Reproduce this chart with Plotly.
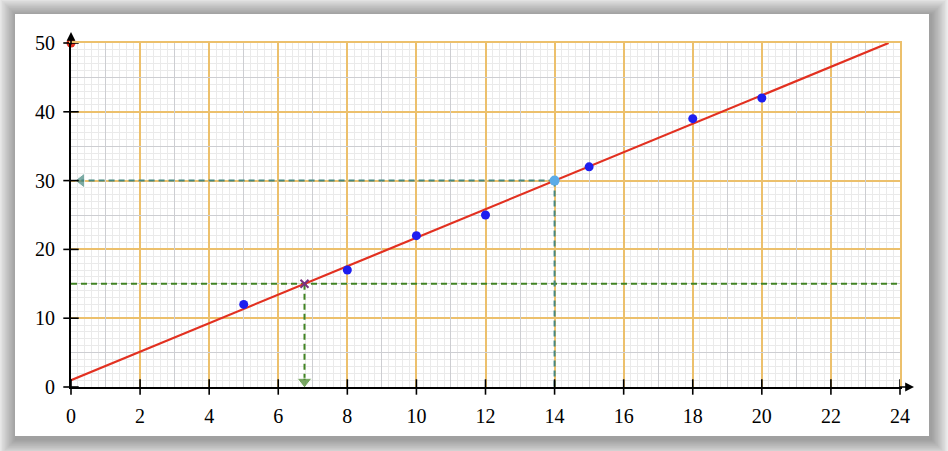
import plotly.graph_objects as go

# measured points
pts_x = [5, 8, 10, 12, 15, 18, 20]
pts_y = [12, 17, 22, 25, 32, 39, 42]

# line of best fit
fit_x = [0, 23.67]
fit_y = [1, 50]

# reading at y = 15 (cross) and reading at x = 14
cross_x, cross_y = 6.76, 15
read_x, read_y = 14, 30

x_ticks = list(range(0, 25, 2))
y_ticks = list(range(0, 51, 10))
x_mid = list(range(1, 24, 2))
y_mid = [5, 15, 25, 35, 45]

W, H = 948, 451
L, R, T, B = 71, 48, 43, 64
PW, PH = W - L - R, H - T - B

def px(x):
	return (x - L) / PW

def py(y):
	return (H - B - y) / PH

ORANGE = "rgb(236,192,108)"
MIDGRAY = "rgb(205,206,210)"
FINEGRAY = "rgb(234,234,234)"
TEAL = "rgb(70,136,128)"
GREEN = "rgb(66,132,36)"
font_family = "'Liberation Serif', 'DejaVu Serif', serif"

fig = go.Figure()

# green reading: horizontal across, vertical down to x axis
fig.add_trace(go.Scatter(x=[0, 24], y=[cross_y, cross_y], mode="lines",
						 line=dict(color=GREEN, width=2, dash="6px,4px"),
						 hoverinfo="skip"))
fig.add_trace(go.Scatter(x=[cross_x, cross_x], y=[cross_y, 0.8], mode="lines+markers",
						 line=dict(color=GREEN, width=2, dash="6px,4px"),
						 marker=dict(symbol=["circle", "triangle-down"], size=[0, 13],
									 color=GREEN),
						 cliponaxis=False, hoverinfo="skip"))

# teal reading: vertical down and horizontal to y axis
fig.add_trace(go.Scatter(x=[read_x, read_x], y=[read_y, 0], mode="lines",
						 line=dict(color=TEAL, width=2, dash="6px,4px"),
						 hoverinfo="skip"))
fig.add_trace(go.Scatter(x=[read_x, 0.3], y=[read_y, read_y], mode="lines+markers",
						 line=dict(color=TEAL, width=2, dash="6px,4px"),
						 marker=dict(symbol=["circle", "triangle-left"], size=[0, 13],
									 color=TEAL),
						 cliponaxis=False, hoverinfo="skip"))

# best fit line
fig.add_trace(go.Scatter(x=fit_x, y=fit_y, mode="lines",
						 line=dict(color="rgb(226,48,32)", width=2.2)))

# data points
fig.add_trace(go.Scatter(x=pts_x, y=pts_y, mode="markers",
						 marker=dict(color="rgb(30,30,240)", size=9)))
fig.add_trace(go.Scatter(x=[read_x], y=[read_y], mode="markers",
						 marker=dict(color="rgb(92,172,232)", size=10)))
fig.add_trace(go.Scatter(x=[cross_x], y=[cross_y], mode="markers",
						 marker=dict(color="rgb(120,50,130)", size=8, symbol="x-thin",
									 line=dict(width=2, color="rgb(120,50,130)"))))
fig.add_trace(go.Scatter(x=[0], y=[50], mode="markers", cliponaxis=False,
						 marker=dict(color="rgb(226,48,32)", size=9)))

# tick marks crossing the axes
fig.add_trace(go.Scatter(x=x_ticks, y=[0] * len(x_ticks), mode="markers", cliponaxis=False,
						 marker=dict(symbol="line-ns", size=11, line=dict(width=1.6, color="black")),
						 hoverinfo="skip"))
fig.add_trace(go.Scatter(x=[0] * len(y_ticks), y=y_ticks, mode="markers", cliponaxis=False,
						 marker=dict(symbol="line-ew", size=11, line=dict(width=1.6, color="black")),
						 hoverinfo="skip"))

# dummy trace for the overlay grid axes
fig.add_trace(go.Scatter(x=[None], y=[None], xaxis="x2", yaxis="y2", hoverinfo="skip"))

# card with soft shadow
shapes = []
for i in range(12, 0, -1):
	g = i * 1.4
	shapes.append(dict(type="rect", xref="paper", yref="paper", layer="below",
					   x0=px(15 - g + 1), x1=px(929 + g + 2),
					   y0=py(436 + g + 3), y1=py(14 - g + 1),
					   line=dict(width=0), fillcolor="rgba(0,0,0,0.03)"))
shapes.append(dict(type="rect", xref="paper", yref="paper", layer="below",
				   x0=px(15), x1=px(929), y0=py(436), y1=py(14),
				   line=dict(width=0), fillcolor="white"))

annotations = [
	dict(xref="paper", yref="paper", x=px(914), y=0, ax=-16, ay=0, text="",
		 showarrow=True, arrowhead=2, arrowsize=1.1, arrowwidth=1.6, arrowcolor="black"),
	dict(xref="paper", yref="paper", x=0, y=py(32), ax=0, ay=14, text="",
		 showarrow=True, arrowhead=2, arrowsize=1.1, arrowwidth=1.6, arrowcolor="black"),
]

fig.update_layout(
	width=W, height=H,
	margin=dict(l=L, r=R, t=T, b=B),
	paper_bgcolor="rgb(242,242,242)",
	plot_bgcolor="white",
	showlegend=False,
	shapes=shapes,
	annotations=annotations,
	font=dict(family=font_family, size=20, color="black"),
	xaxis=dict(range=[0, 24], tickvals=x_ticks, showgrid=True, gridcolor=ORANGE, gridwidth=1.5,
			   minor=dict(dtick=0.2, tick0=0, showgrid=True, gridcolor=FINEGRAY, gridwidth=1),
			   showline=True, linecolor="black", linewidth=1.8, zeroline=False,
			   ticks="", ticklabelstandoff=10, fixedrange=True),
	yaxis=dict(range=[0, 50], tickvals=y_ticks, showgrid=True, gridcolor=ORANGE, gridwidth=1.5,
			   minor=dict(dtick=1, tick0=0, showgrid=True, gridcolor=FINEGRAY, gridwidth=1),
			   showline=True, linecolor="black", linewidth=1.8, zeroline=False,
			   ticks="", ticklabelstandoff=10, fixedrange=True),
	xaxis2=dict(range=[0, 24], tickvals=x_mid, overlaying="x", anchor="y2", side="top",
				showgrid=True, gridcolor=MIDGRAY, gridwidth=1.2, showticklabels=False,
				showline=True, linecolor=ORANGE, linewidth=1.5, zeroline=False, ticks="",
				fixedrange=True),
	yaxis2=dict(range=[0, 50], tickvals=y_mid, overlaying="y", anchor="x2", side="right",
				showgrid=True, gridcolor=MIDGRAY, gridwidth=1.2, showticklabels=False,
				showline=True, linecolor=ORANGE, linewidth=1.5, zeroline=False, ticks="",
				fixedrange=True),
)

fig.write_html("out.html", config={"displayModeBar": False},
			   post_script="document.body.style.margin = '0';")
